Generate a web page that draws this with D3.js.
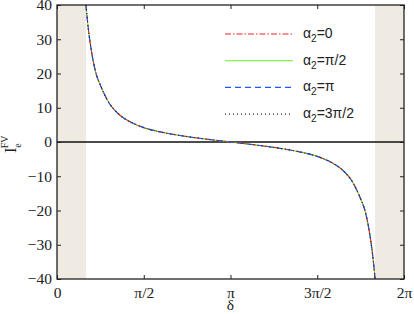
<!DOCTYPE html>
<html>
<head>
<meta charset="utf-8">
<script src="https://cdn.jsdelivr.net/npm/d3@7"></script>
<style>
  body { margin: 0; background: #fff; }
  svg { display: block; }
</style>
</head>
<body>
<svg></svg>
<script>
const width = 414;
const height = 314;
const margin = { top: 5, right: 10, bottom: 35, left: 57 };
const innerWidth = width - margin.left - margin.right;
const innerHeight = height - margin.top - margin.bottom;
const serif = 'Liberation Serif';
const sans = 'Liberation Sans';

// delta in units of pi, I_e^FV (left branch, right branch mirrors it)
const deltaLeft = [0.1667, 0.18, 0.20, 0.225, 0.25, 0.30, 0.35, 0.40, 0.45, 0.50, 0.60, 0.70, 0.80, 0.90, 1.0];
const valueLeft = [40.0, 33.3, 26.1, 20.0, 16.6, 11.4, 8.4, 6.5, 5.2, 4.2, 2.9, 1.96, 1.23, 0.59, 0];
const deltaRight = [1.10, 1.20, 1.30, 1.40, 1.50, 1.55, 1.60, 1.65, 1.70, 1.75, 1.775, 1.80, 1.82, 1.8333];
const valueRight = [-0.59, -1.23, -1.96, -2.9, -4.2, -5.2, -6.5, -8.4, -11.4, -16.6, -20.0, -26.1, -33.3, -40.0];

const shaded = [[0, 1 / 6], [11 / 6, 2]];
const xTicks = [0, 0.5, 1, 1.5, 2];
const xTickLabels = ['0', 'π/2', 'π', '3π/2', '2π'];
const yTicks = [-40, -30, -20, -10, 0, 10, 20, 30, 40];

const seriesNames = ['0', 'π/2', 'π', '3π/2'];
const seriesColors = ['#ff2020', '#66ee22', '#2255ff', '#222222'];
const seriesDash = ['6,2,1.5,2', null, '6,4', '1,3'];

const deltas = deltaLeft.concat(deltaRight);
const values = valueLeft.concat(valueRight);
const points = deltas.map((d, i) => ({ d, v: values[i] }));

const svg = d3.select('svg')
  .attr('width', width)
  .attr('height', height)
  .attr('font-family', serif);

const g = svg.append('g')
  .attr('transform', `translate(${margin.left}, ${margin.top})`);

const xScale = d3.scaleLinear().domain([0, 2]).range([0, innerWidth]);
const yScale = d3.scaleLinear().domain([-40, 40]).range([innerHeight, 0]);

// shaded forbidden regions
g.selectAll('rect.shade').data(shaded)
  .enter().append('rect')
  .attr('class', 'shade')
  .attr('x', d => xScale(d[0]))
  .attr('y', 0)
  .attr('width', d => xScale(d[1]) - xScale(d[0]))
  .attr('height', innerHeight)
  .attr('fill', '#efebe3');

// zero line
g.append('line')
  .attr('x1', 0).attr('x2', innerWidth)
  .attr('y1', yScale(0)).attr('y2', yScale(0))
  .attr('stroke', '#111')
  .attr('stroke-width', 1.4);

const line = d3.line()
  .x(d => xScale(d.d))
  .y(d => yScale(d.v))
  .curve(d3.curveMonotoneX);

// draw green first so the dashed ones show on top
const drawOrder = [1, 0, 2, 3];
svg.append('clipPath').attr('id', 'clip')
  .append('rect').attr('width', innerWidth).attr('height', innerHeight);

const curves = g.append('g').attr('clip-path', 'url(#clip)');
drawOrder.forEach(i => {
  curves.append('path')
    .datum(points)
    .attr('d', line)
    .attr('fill', 'none')
    .attr('stroke', seriesColors[i])
    .attr('stroke-width', 1.1)
    .attr('stroke-dasharray', seriesDash[i]);
});

// axes with inward ticks on all four sides
const tickLen = 4;
const xAxis = d3.axisBottom(xScale).tickValues(xTicks)
  .tickFormat((d, i) => xTickLabels[i]).tickSizeInner(-tickLen).tickSizeOuter(0).tickPadding(8);
const yAxis = d3.axisLeft(yScale).tickValues(yTicks)
  .tickFormat(d => d < 0 ? '\u2212' + Math.abs(d) : d).tickSizeInner(-tickLen).tickSizeOuter(0).tickPadding(5);

g.append('g').attr('transform', `translate(0, ${innerHeight})`).call(xAxis);
g.append('g').call(yAxis);
g.append('g').call(d3.axisTop(xScale).tickValues(xTicks).tickFormat('').tickSizeInner(-tickLen).tickSizeOuter(0));
g.append('g').attr('transform', `translate(${innerWidth}, 0)`)
  .call(d3.axisRight(yScale).tickValues(yTicks).tickFormat('').tickSizeInner(-tickLen).tickSizeOuter(0));

g.selectAll('.domain').remove();
g.selectAll('.tick line').attr('stroke', '#222');
g.selectAll('.tick text').filter(function () { return this.textContent === ''; }).remove();
g.selectAll('.tick text')
  .attr('font-family', serif)
  .attr('font-size', 15.5)
  .attr('fill', '#222');

// box
g.append('rect')
  .attr('width', innerWidth).attr('height', innerHeight)
  .attr('fill', 'none').attr('stroke', '#222').attr('stroke-width', 1.3);

// axis labels
g.append('text')
  .attr('x', xScale(1)).attr('y', innerHeight + 31)
  .attr('text-anchor', 'middle')
  .attr('font-family', serif)
  .attr('font-size', 15.5).attr('fill', '#222')
  .text('δ');

const yLab = svg.append('text')
  .attr('transform', 'translate(16, 153) rotate(-90)')
  .attr('font-family', serif)
  .attr('font-size', 16).attr('fill', '#222');
yLab.append('tspan').text('I');
yLab.append('tspan').attr('font-size', 10).attr('dy', 5).text('e');
yLab.append('tspan').attr('font-size', 10).attr('dx', -5).attr('dy', -13).text('FV');

// legend
const legend = g.append('g').attr('transform', `translate(${225 - margin.left}, ${34 - margin.top})`);
seriesNames.forEach((name, i) => {
  const row = legend.append('g').attr('transform', `translate(0, ${i * 26.7})`);
  row.append('line')
    .attr('x1', 0).attr('x2', 68).attr('y1', 0).attr('y2', 0)
    .attr('stroke', seriesColors[i])
    .attr('stroke-width', 1.1)
    .attr('stroke-dasharray', seriesDash[i]);
  const t = row.append('text')
    .attr('x', 78).attr('y', 4)
    .attr('font-family', sans)
    .attr('font-size', 14).attr('fill', '#222');
  t.append('tspan').text('α');
  t.append('tspan').attr('font-size', 10).attr('dy', 4).text('2');
  t.append('tspan').attr('dy', -4).text('=' + name);
});
</script>
</body>
</html>
